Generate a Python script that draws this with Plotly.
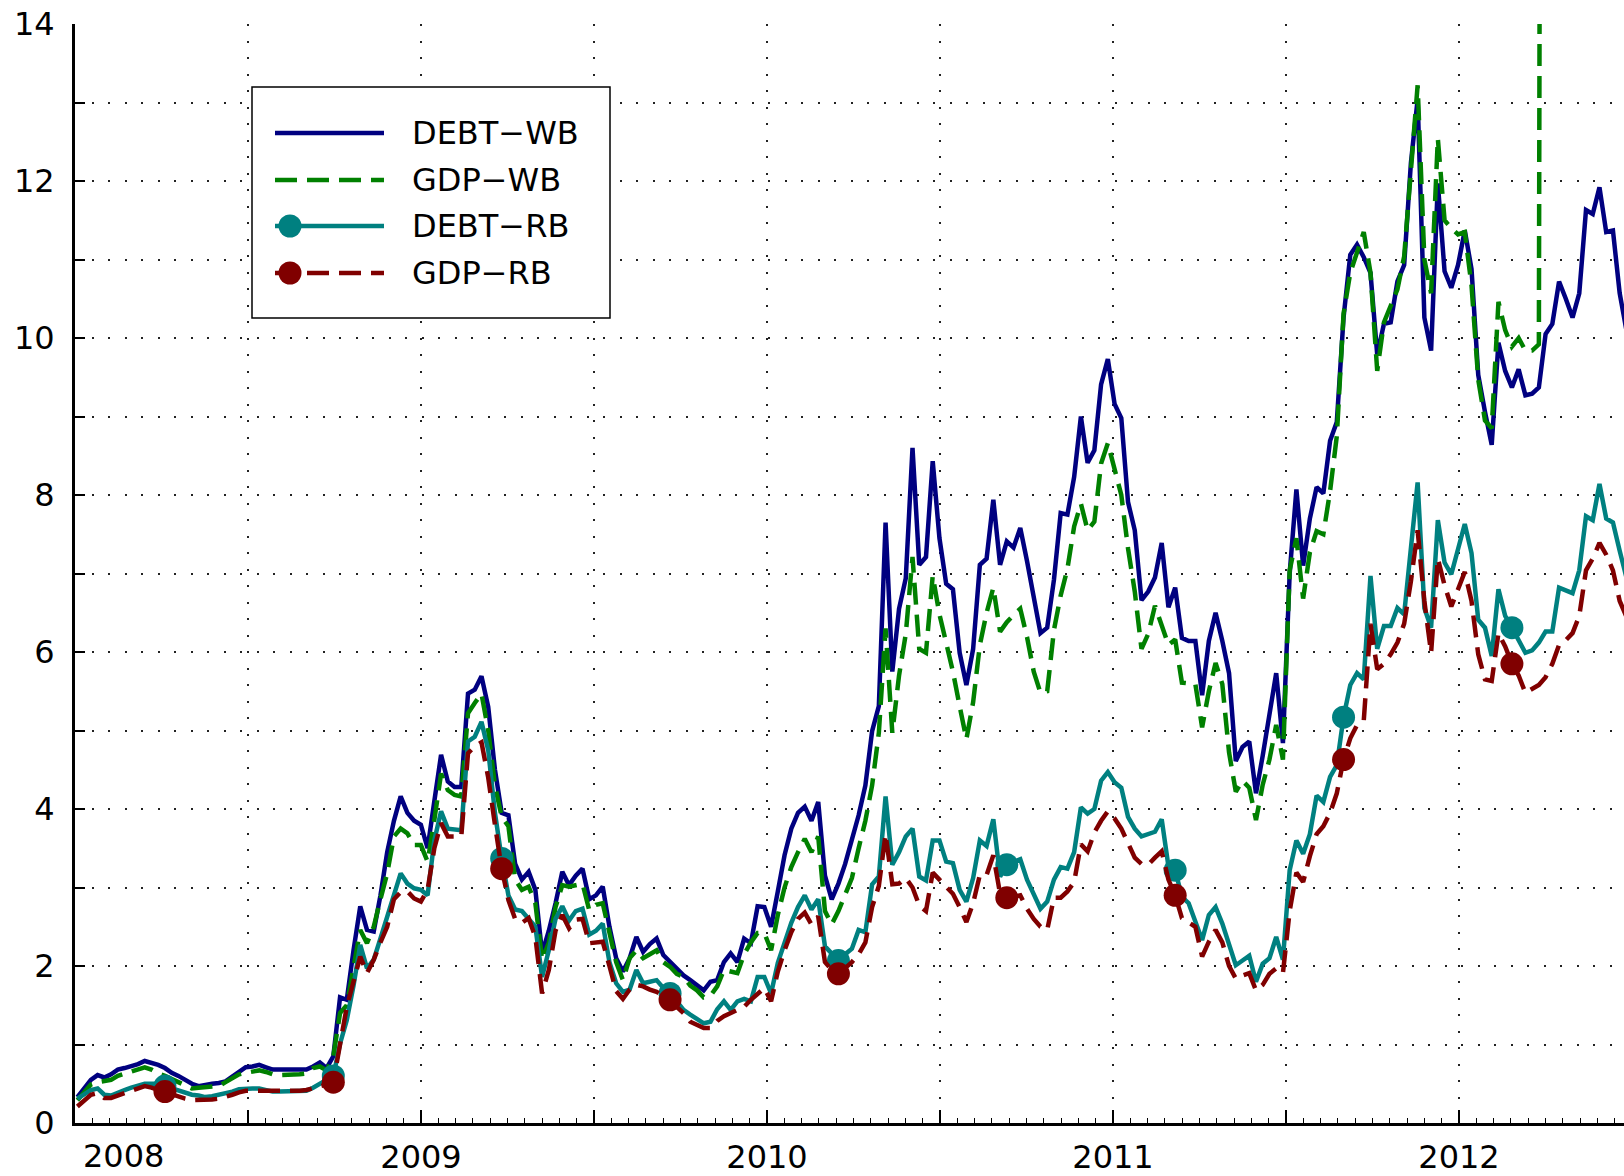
import numpy as np
import plotly.graph_objects as go

# ---------------- data ----------------
first_obs = 2008.0069      # time of first observation (years)
obs_step = 0.019465        # years between observations (weekly)

debt_wb = [
    0.33, 0.45, 0.55, 0.61, 0.58, 0.62, 0.68, 0.70, 0.72, 0.75,
    0.79, 0.77, 0.74, 0.70, 0.64, 0.60, 0.55, 0.50, 0.47, 0.49,
    0.50, 0.51, 0.53, 0.59, 0.65, 0.71, 0.72, 0.74, 0.71, 0.68,
    0.68, 0.68, 0.68, 0.68, 0.68, 0.72, 0.77, 0.70, 0.85, 1.60,
    1.57, 2.20, 2.76, 2.46, 2.44, 2.90, 3.45, 3.85, 4.16, 3.95,
    3.85, 3.80, 3.50, 4.10, 4.69, 4.35, 4.28, 4.28, 5.47, 5.52,
    5.69, 5.30, 4.50, 3.95, 3.92, 3.30, 3.10, 3.20, 2.97, 2.16,
    2.45, 2.80, 3.20, 3.03, 3.15, 3.24, 2.85, 2.90, 3.01, 2.50,
    2.10, 1.93, 2.10, 2.37, 2.18, 2.28, 2.35, 2.14, 2.05, 1.95,
    1.88, 1.82, 1.75, 1.69, 1.80, 1.82, 2.05, 2.16, 2.05, 2.35,
    2.29, 2.76, 2.75, 2.50, 2.95, 3.41, 3.75, 3.95, 4.03, 3.85,
    4.09, 3.15, 2.85, 3.05, 3.30, 3.60, 3.92, 4.30, 4.99, 5.31,
    7.65, 5.75, 6.55, 6.94, 8.60, 7.11, 7.21, 8.43, 7.45, 6.87,
    6.80, 5.99, 5.58, 6.04, 7.11, 7.19, 7.94, 7.11, 7.41, 7.33,
    7.58, 7.16, 6.72, 6.24, 6.31, 6.92, 7.77, 7.75, 8.23, 9.00,
    8.41, 8.57, 9.41, 9.73, 9.16, 8.98, 7.91, 7.55, 6.66, 6.77,
    6.95, 7.39, 6.57, 6.82, 6.18, 6.14, 6.14, 5.45, 6.14, 6.50,
    6.14, 5.73, 4.61, 4.79, 4.86, 4.20, 4.68, 5.18, 5.73, 4.84,
    7.00, 8.07, 7.10, 7.70, 8.10, 8.02, 8.69, 8.93, 10.26, 11.06,
    11.19, 11.03, 10.83, 9.79, 10.18, 10.20, 10.72, 10.93, 12.23, 13.04,
    10.26, 9.84, 11.97, 10.85, 10.64, 10.93, 11.37, 10.88, 9.53, 9.06,
    8.64, 9.94, 9.58, 9.37, 9.60, 9.27, 9.29, 9.37, 10.05, 10.18,
    10.72, 10.50, 10.26, 10.57, 11.63, 11.58, 11.92, 11.35, 11.37, 10.57,
    10.10,
]

gdp_wb = [
    0.29, 0.40, 0.49, 0.52, 0.53, 0.55, 0.60, 0.63, 0.66, 0.69,
    0.71, 0.68, 0.63, 0.60, 0.56, 0.53, 0.48, 0.44, 0.45, 0.46,
    0.46, 0.47, 0.52, 0.57, 0.62, 0.64, 0.66, 0.67, 0.65, 0.62,
    0.61, 0.61, 0.61, 0.62, 0.63, 0.70, 0.72, 0.67, 0.85, 1.40,
    1.50, 2.00, 2.46, 2.29, 2.50, 2.85, 3.18, 3.65, 3.75, 3.69,
    3.54, 3.54, 3.33, 3.86, 4.45, 4.24, 4.18, 4.16, 5.22, 5.35,
    5.47, 5.00, 4.30, 3.90, 3.78, 3.10, 2.97, 3.01, 2.80, 2.08,
    2.30, 2.75, 3.03, 3.01, 3.03, 3.05, 2.71, 2.78, 2.80, 2.40,
    2.05, 1.82, 2.10, 2.20, 2.10, 2.15, 2.20, 2.05, 1.99, 1.90,
    1.86, 1.75, 1.69, 1.60, 1.62, 1.74, 1.95, 1.93, 1.91, 2.15,
    2.30, 2.42, 2.42, 2.20, 2.65, 3.00, 3.26, 3.45, 3.62, 3.45,
    3.65, 2.70, 2.53, 2.70, 2.90, 3.12, 3.50, 3.85, 4.30, 4.97,
    6.30, 4.97, 5.70, 6.23, 7.21, 6.04, 5.99, 6.97, 6.48, 6.14,
    5.75, 5.31, 4.89, 5.36, 6.09, 6.50, 6.82, 6.26, 6.38, 6.47,
    6.55, 6.19, 5.75, 5.48, 5.50, 6.28, 6.72, 7.06, 7.60, 7.89,
    7.55, 7.66, 8.40, 8.66, 8.32, 8.00, 7.32, 6.77, 6.04, 6.23,
    6.59, 6.32, 6.09, 6.16, 5.61, 5.60, 5.59, 5.04, 5.50, 5.86,
    5.59, 4.72, 4.22, 4.36, 4.27, 3.86, 4.31, 4.63, 5.07, 4.63,
    7.04, 7.45, 6.68, 7.27, 7.54, 7.50, 8.05, 8.75, 10.31, 10.83,
    11.10, 11.35, 10.83, 9.58, 10.20, 10.40, 10.62, 11.04, 12.23, 13.22,
    11.00, 10.57, 12.54, 11.50, 11.40, 11.32, 11.35, 10.67, 9.47, 8.95,
    8.85, 10.46, 10.10, 9.89, 10.00, 9.84, 9.84, 9.92, 50.0, None,
    None, None, None, None, None, None, None, None, None, None,
    None,
]

debt_rb = [
    0.31, 0.37, 0.42, 0.44, 0.36, 0.35, 0.39, 0.42, 0.45, 0.48,
    0.50, 0.50, 0.50, 0.47, 0.44, 0.41, 0.38, 0.36, 0.35, 0.33,
    0.34, 0.36, 0.37, 0.40, 0.43, 0.44, 0.44, 0.44, 0.42, 0.40,
    0.40, 0.40, 0.40, 0.41, 0.41, 0.45, 0.50, 0.56, 0.60, 1.01,
    1.31, 1.75, 2.27, 1.97, 2.08, 2.35, 2.63, 2.90, 3.18, 3.05,
    2.99, 2.97, 2.90, 3.60, 3.97, 3.75, 3.74, 3.73, 4.86, 4.92,
    5.11, 4.75, 3.95, 3.37, 2.90, 2.72, 2.70, 2.60, 2.50, 1.86,
    2.20, 2.60, 2.76, 2.58, 2.70, 2.73, 2.40, 2.45, 2.54, 2.05,
    1.78, 1.67, 1.70, 1.95, 1.78, 1.80, 1.82, 1.72, 1.65, 1.55,
    1.44, 1.38, 1.32, 1.27, 1.29, 1.45, 1.55, 1.44, 1.55, 1.58,
    1.55, 1.86, 1.86, 1.65, 2.04, 2.30, 2.55, 2.75, 2.90, 2.72,
    2.85, 2.25, 2.15, 2.07, 2.15, 2.22, 2.46, 2.43, 3.04, 3.14,
    4.16, 3.29, 3.45, 3.65, 3.75, 3.14, 3.09, 3.60, 3.60, 3.33,
    3.31, 2.97, 2.82, 3.12, 3.60, 3.53, 3.87, 3.14, 3.29, 3.32,
    3.36, 3.10, 2.90, 2.73, 2.82, 3.10, 3.26, 3.24, 3.45, 4.02,
    3.94, 4.00, 4.36, 4.47, 4.34, 4.27, 3.90, 3.75, 3.65, 3.68,
    3.71, 3.87, 3.27, 3.22, 2.88, 2.80, 2.55, 2.33, 2.65, 2.75,
    2.54, 2.25, 2.01, 2.07, 2.13, 1.80, 2.03, 2.10, 2.37, 2.08,
    3.22, 3.60, 3.43, 3.68, 4.17, 4.09, 4.41, 4.56, 5.17, 5.58,
    5.73, 5.65, 6.97, 6.04, 6.33, 6.33, 6.56, 6.48, 7.29, 8.16,
    6.56, 6.31, 7.68, 7.14, 6.99, 7.29, 7.63, 7.26, 6.41, 6.31,
    5.95, 6.80, 6.46, 6.31, 6.15, 5.99, 6.02, 6.12, 6.26, 6.26,
    6.82, 6.78, 6.75, 7.04, 7.73, 7.68, 8.14, 7.70, 7.65, 7.29,
    6.95,
]

gdp_rb = [
    0.21, 0.28, 0.36, 0.38, 0.32, 0.32, 0.35, 0.38, 0.41, 0.45,
    0.47, 0.45, 0.42, 0.40, 0.37, 0.34, 0.31, 0.29, 0.29, 0.30,
    0.30, 0.31, 0.33, 0.36, 0.39, 0.41, 0.41, 0.41, 0.40, 0.40,
    0.40, 0.40, 0.41, 0.41, 0.42, 0.44, 0.47, 0.49, 0.52, 1.01,
    1.48, 1.80, 2.12, 1.91, 2.08, 2.30, 2.50, 2.85, 2.94, 2.95,
    2.86, 2.82, 2.97, 3.50, 3.82, 3.65, 3.65, 3.65, 4.71, 4.80,
    4.85, 4.40, 3.80, 3.24, 2.84, 2.60, 2.55, 2.61, 2.37, 1.65,
    1.95, 2.45, 2.65, 2.48, 2.59, 2.60, 2.29, 2.30, 2.31, 2.00,
    1.68, 1.58, 1.70, 1.76, 1.74, 1.70, 1.67, 1.62, 1.57, 1.48,
    1.40, 1.29, 1.25, 1.21, 1.21, 1.30, 1.36, 1.40, 1.45, 1.48,
    1.57, 1.65, 1.72, 1.55, 1.93, 2.20, 2.43, 2.60, 2.68, 2.53,
    2.63, 2.05, 1.95, 1.90, 1.98, 2.05, 2.15, 2.30, 2.75, 3.02,
    3.68, 3.04, 3.05, 3.12, 3.00, 2.77, 2.70, 3.19, 3.10, 3.00,
    2.92, 2.75, 2.56, 2.80, 3.16, 3.16, 3.41, 2.92, 2.87, 2.88,
    2.90, 2.73, 2.60, 2.50, 2.46, 2.87, 2.87, 2.95, 3.07, 3.55,
    3.46, 3.70, 3.85, 3.97, 3.88, 3.75, 3.55, 3.38, 3.30, 3.29,
    3.38, 3.46, 3.10, 2.90, 2.61, 2.55, 2.50, 2.12, 2.31, 2.46,
    2.30, 2.00, 1.84, 1.88, 1.91, 1.69, 1.76, 1.90, 1.97, 1.91,
    2.70, 3.19, 3.07, 3.40, 3.68, 3.78, 3.95, 4.20, 4.63, 4.90,
    5.07, 5.12, 6.36, 5.78, 5.85, 5.97, 6.12, 6.36, 6.90, 7.55,
    6.65, 5.99, 7.19, 6.85, 6.58, 6.80, 7.02, 6.65, 5.97, 5.65,
    5.63, 6.24, 6.07, 5.85, 5.70, 5.48, 5.53, 5.58, 5.68, 5.85,
    6.09, 6.15, 6.24, 6.46, 7.04, 7.19, 7.39, 7.24, 7.04, 6.65,
    6.45,
]

series_names = ["DEBT\u2212WB", "GDP\u2212WB", "DEBT\u2212RB", "GDP\u2212RB"]
y_tick_values = list(range(0, 15))
y_tick_labels = [str(v) if v % 2 == 0 else "" for v in y_tick_values]
x_grid_values = [2008.0 + 0.5 * k for k in range(10)]
x_year_labels = ["2008", "2009", "2010", "2011", "2012"]
first_label_pos = 2008.14

# ---------------- styling ----------------
FONT = "DejaVu Sans"
FS = 32
W, H = 1624, 1176
ml, mt, mb = 75, 24, 53
plot_w = W - ml
plot_h = H - mt - mb
px_per_year = 346.0
x_end = 2008.0 + plot_w / px_per_year

n_obs = len(debt_wb)
x = first_obs + obs_step * np.arange(n_obs)

marker_start, marker_every, marker_px = 13, 25, 23
msize = [marker_px if (i >= marker_start and (i - marker_start) % marker_every == 0) else 0
         for i in range(n_obs)]

colors = ["#000080", "#008000", "#008080", "#800000"]
dashes = ["solid", "22px,10px", "solid", "22px,10px"]
has_markers = [False, False, True, True]
series = [debt_wb, gdp_wb, debt_rb, gdp_rb]
LW = 4.5

fig = go.Figure()
for name, vals, col, dsh, mk in zip(series_names, series, colors, dashes, has_markers):
    tr = dict(x=x, y=vals, name=name, showlegend=False,
              line=dict(color=col, width=LW, dash=dsh))
    if mk:
        tr.update(mode="lines+markers",
                  marker=dict(size=msize, color=col, opacity=1, line=dict(width=0)))
    else:
        tr.update(mode="lines")
    fig.add_trace(go.Scatter(**tr))

x_ticktext = [str(int(v)) if (v == int(v) and v > 2008) else "" for v in x_grid_values]

fig.update_layout(
    width=W, height=H,
    margin=dict(l=ml, r=0, t=mt, b=mb, pad=0),
    paper_bgcolor="white", plot_bgcolor="white",
    font=dict(family=FONT, size=FS, color="black"),
    showlegend=False,
    xaxis=dict(
        range=[2008.0, x_end],
        tickmode="array", tickvals=x_grid_values, ticktext=x_ticktext,
        ticks="inside", ticklen=13, tickwidth=1.5, tickcolor="black",
        minor=dict(dtick=0.05, tick0=2008.0, ticks="inside", ticklen=5,
                   tickwidth=1, tickcolor="black", showgrid=False),
        showgrid=True, gridcolor="#222222", gridwidth=1.5, griddash="2px,14.5px",
        showline=True, linecolor="black", linewidth=3,
        zeroline=False, ticklabelstandoff=4,
        tickfont=dict(family=FONT, size=FS, color="black"),
    ),
    yaxis=dict(
        range=[0, 14],
        tickmode="array", tickvals=y_tick_values, ticktext=y_tick_labels,
        ticks="inside", ticklen=10, tickwidth=1.5, tickcolor="black",
        showgrid=True, gridcolor="#222222", gridwidth=1.5, griddash="2px,14.5px",
        showline=True, linecolor="black", linewidth=3,
        zeroline=False, ticklabelstandoff=11,
        tickfont=dict(family=FONT, size=FS, color="black"),
    ),
)

fig.add_annotation(x=first_label_pos, xref="x", y=0, yref="paper",
                   text=x_year_labels[0], showarrow=False,
                   xanchor="center", yanchor="top", yshift=-12,
                   font=dict(family=FONT, size=FS, color="black"))

# ---------------- legend box (drawn) ----------------
def px_x(p):
    return (p - ml) / plot_w

def px_y(p):
    return (H - mb - p) / plot_h

box = dict(x0=252, x1=610, y0=87, y1=318)
row_y = [133, 180, 226, 273]
sample_x0, sample_x1, mark_x, text_x = 275, 384, 290, 410

fig.add_shape(type="rect", xref="paper", yref="paper",
              x0=px_x(box["x0"]), x1=px_x(box["x1"]),
              y0=px_y(box["y1"]), y1=px_y(box["y0"]),
              line=dict(color="black", width=1.5), fillcolor="white", layer="above")

for name, col, dsh, mk, ry in zip(series_names, colors, dashes, has_markers, row_y):
    fig.add_shape(type="line", xref="paper", yref="paper",
                  x0=px_x(sample_x0), x1=px_x(sample_x1),
                  y0=px_y(ry), y1=px_y(ry),
                  line=dict(color=col, width=LW, dash=dsh), layer="above")
    if mk:
        r = marker_px / 2
        fig.add_shape(type="circle", xref="paper", yref="paper",
                      xsizemode="pixel", ysizemode="pixel",
                      xanchor=px_x(mark_x), yanchor=px_y(ry),
                      x0=-r, x1=r, y0=-r, y1=r,
                      line=dict(width=0), fillcolor=col, layer="above")
    fig.add_annotation(x=px_x(text_x), y=px_y(ry), xref="paper", yref="paper",
                       text=name, showarrow=False, xanchor="left", yanchor="middle",
                       font=dict(family=FONT, size=FS, color="black"))

fig.write_html("out.html",
               config={"displayModeBar": False},
               post_script="document.body.style.margin='0';document.body.style.overflow='hidden';")
